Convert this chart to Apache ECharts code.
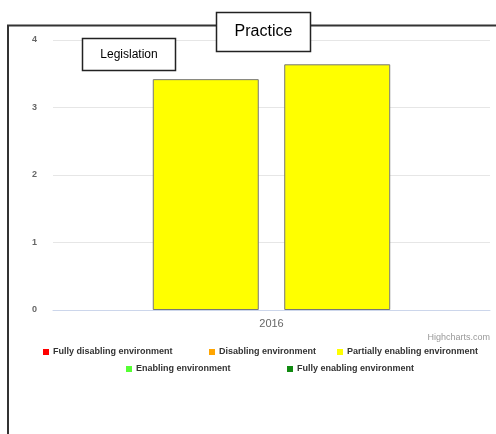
<!DOCTYPE html>
<html>
<head>
<meta charset="utf-8">
<script src="https://cdn.jsdelivr.net/npm/echarts@6/dist/echarts.min.js"></script>
<style>
  html, body {margin: 0; padding: 0; background: #fff;}
  #chart {width: 496px; height: 434px;}
</style>
</head>
<body>
<div id="chart"></div>
<script>
const categories = ["2016"];
const legislationValues = [3.42];
const practiceValues = [3.64];
const yTicks = [0, 1, 2, 3, 4];
const environments = [
  "Fully disabling environment",
  "Disabling environment",
  "Partially enabling environment",
  "Enabling environment",
  "Fully enabling environment",
];
const environmentColors = ["#ff0000", "#ffa500", "#ffff00", "#55ff33", "#118a11"];
// which environment class each bar falls in
const legislationEnv = [2];
const practiceEnv = [2];

const chart = echarts.init(document.getElementById("chart"));

const font = "'Liberation Sans', Arial, Helvetica, sans-serif";

function barData(values, envs) {
  return values.map((v, i) => ({
    value: v,
    itemStyle: {color: environmentColors[envs[i]]},
  }));
}

const legendSeries = environments.map((name, i) => ({
  name: name,
  type: "line",
  data: [],
  itemStyle: {color: environmentColors[i]},
}));

// one legend per item so each sits where the original put it
const legendSpots = [[43, 347], [209, 347], [337, 347], [126, 364], [287, 364]];
const legends = environments.map((name, i) => ({
  data: [name],
  left: legendSpots[i][0],
  top: legendSpots[i][1],
  icon: "rect",
  itemWidth: 6,
  itemHeight: 6,
  selectedMode: false,
  padding: 0,
  textStyle: {fontFamily: font, fontSize: 9, fontWeight: "bold", color: "#333", lineHeight: 10, padding: [0, 0, 0, -1]},
}));

const option = {
  animation: false,
  textStyle: {fontFamily: font},
  grid: {left: 53, right: 6, top: 40, bottom: 124},
  legend: legends,
  xAxis: {
    type: "category",
    data: categories,
    axisLine: {lineStyle: {color: "#ccd6eb"}},
    axisTick: {show: false},
    axisLabel: {color: "#666", fontSize: 11, margin: 8},
  },
  yAxis: {
    type: "value",
    min: yTicks[0],
    max: yTicks[yTicks.length - 1],
    interval: 1,
    axisLine: {show: false},
    axisTick: {show: false},
    axisLabel: {color: "#666", fontSize: 9, fontWeight: "bold", margin: 16},
    splitLine: {lineStyle: {color: "#e6e6e6"}},
  },
  series: [
    {
      name: "Legislation",
      type: "bar",
      data: barData(legislationValues, legislationEnv),
      barWidth: 106,
      barGap: "24%",
      itemStyle: {borderColor: "#777", borderWidth: 1},
    },
    {
      name: "Practice",
      type: "bar",
      data: barData(practiceValues, practiceEnv),
      barWidth: 106,
      barGap: "24%",
      itemStyle: {borderColor: "#777", borderWidth: 1},
    },
  ].concat(legendSeries),
  graphic: [
    // outer frame (top and left edges)
    {type: "line", shape: {x1: 7, y1: 25.5, x2: 496, y2: 25.5}, style: {stroke: "#333", lineWidth: 2}, z: 100},
    {type: "line", shape: {x1: 8, y1: 25, x2: 8, y2: 434}, style: {stroke: "#333", lineWidth: 2}, z: 100},
    // Practice label box
    {type: "rect", shape: {x: 216.5, y: 12.5, width: 94, height: 39}, style: {fill: "#fff", stroke: "#222", lineWidth: 1.5}, z: 101},
    {type: "text", x: 263.5, y: 32, style: {text: "Practice", font: "16px " + font, fill: "#000", align: "center", verticalAlign: "middle"}, z: 102},
    // Legislation label box
    {type: "rect", shape: {x: 82.5, y: 38.5, width: 93, height: 32}, style: {fill: "#fff", stroke: "#222", lineWidth: 1.5}, z: 101},
    {type: "text", x: 129, y: 54.5, style: {text: "Legislation", font: "12px " + font, fill: "#000", align: "center", verticalAlign: "middle"}, z: 102},
    // credits
    {type: "text", right: 6, top: 333, style: {text: "Highcharts.com", font: "9px " + font, fill: "#999"}},
  ],
};

chart.setOption(option);
</script>
</body>
</html>
